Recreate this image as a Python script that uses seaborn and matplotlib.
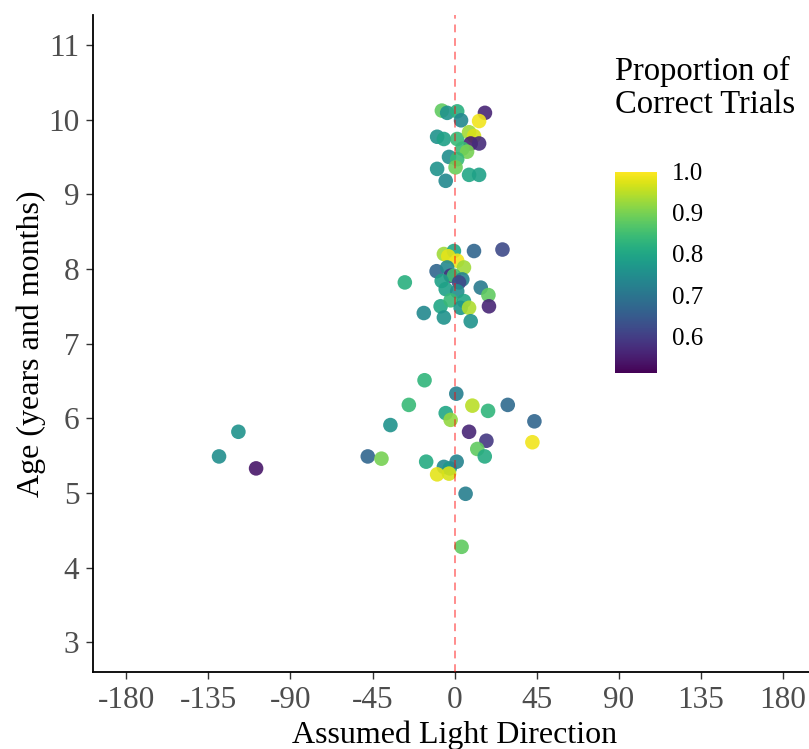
import numpy as np
import pandas as pd
import matplotlib
matplotlib.use('Agg')
import matplotlib.pyplot as plt
import seaborn as sns

# Assumed light direction (degrees), age (years) and proportion of correct trials
direction = [
    -16.5, -25.1, -35.2, 0.9, 9.7, 18.3, 29.1, 43.7, 42.6, -4.9,
    -2.2, 7.9, 17.4, 12.4, 16.5, -15.6, -5.9, -2.7, 1.1, -9.6,
    -3.1, 6.0, 3.8, -118.5, -129.1, -108.8, -47.6, -40.1,
    -5.9, -0.4, -3.5, 1.4, 10.6, 26.2, -9.9, -4.1, 5.1, -2.2,
    -0.4, 4.2, 2.4, -27.3, -7.1, -4.9, 1.4, 14.3, 18.5, 18.8,
    -7.7, -2.2, 5.1, 3.3, 7.9, -16.9, -5.9, 8.8,
    -7.0, -4.1, 1.4, 3.5, 16.6, 13.4, -9.6, -5.9, 1.4, 7.9,
    10.6, 8.8, 13.4, 4.2, 6.8, -3.1, 1.4, 0.5, -9.6, 7.9,
    13.4, -4.9,
]
age = [
    6.51, 6.18, 5.91, 6.33, 6.17, 6.10, 6.18, 5.96, 5.68, 6.07,
    5.98, 5.82, 5.70, 5.59, 5.49, 5.42, 5.35, 5.33, 5.42, 5.25,
    5.26, 4.99, 4.28, 5.82, 5.49, 5.33, 5.49, 5.46,
    8.20, 8.24, 8.17, 8.11, 8.24, 8.26, 7.97, 8.02, 8.02, 7.91,
    7.91, 7.86, 7.82, 7.82, 7.84, 7.73, 7.70, 7.75, 7.65, 7.50,
    7.50, 7.58, 7.57, 7.48, 7.48, 7.41, 7.35, 7.30,
    10.12, 10.09, 10.11, 9.99, 10.09, 9.98, 9.77, 9.74, 9.74, 9.83,
    9.78, 9.68, 9.68, 9.61, 9.57, 9.50, 9.47, 9.36, 9.34, 9.26,
    9.26, 9.18,
]
proportion = [
    0.83, 0.84, 0.76, 0.72, 0.95, 0.83, 0.68, 0.67, 0.99, 0.80,
    0.92, 0.56, 0.59, 0.88, 0.81, 0.81, 0.74, 0.77, 0.73, 0.98,
    0.97, 0.72, 0.88, 0.76, 0.75, 0.54, 0.67, 0.90,
    0.93, 0.80, 0.98, 0.99, 0.67, 0.62, 0.67, 0.74, 0.93, 0.58,
    0.85, 0.73, 0.62, 0.82, 0.79, 0.79, 0.75, 0.71, 0.88, 0.56,
    0.80, 0.84, 0.80, 0.77, 0.94, 0.74, 0.76, 0.76,
    0.88, 0.76, 0.82, 0.74, 0.56, 0.99, 0.76, 0.79, 0.84, 0.93,
    0.97, 0.55, 0.57, 0.84, 0.90, 0.75, 0.84, 0.89, 0.76, 0.80,
    0.79, 0.74,
]

x_ticks = [-180, -135, -90, -45, 0, 45, 90, 135, 180]
y_ticks = [3, 4, 5, 6, 7, 8, 9, 10, 11]
cbar_ticks = [0.6, 0.7, 0.8, 0.9, 1.0]
hue_range = (0.51, 1.0)

df = pd.DataFrame({'direction': direction, 'age': age, 'proportion': proportion})

sns.set_theme(style='ticks')
plt.rcParams['font.family'] = ['Liberation Serif', 'DejaVu Serif']
plt.rcParams['axes.unicode_minus'] = False

W, H = 809, 749
fig = plt.figure(figsize=(W / 100, H / 100), dpi=100)
ax = fig.add_axes([93.3 / W, (H - 672.3) / H, (816 - 93.3) / W, (672.3 - 15) / H])

sns.scatterplot(data=df, x='direction', y='age', hue='proportion',
                palette='viridis', hue_norm=hue_range, s=110, linewidth=0,
                alpha=0.9, legend=False, ax=ax, zorder=2)
ax.axvline(0, color='red', alpha=0.45, linestyle=(0, (4, 3)), linewidth=1.4, zorder=3)

ax.set_xlim(-198, 198)
ax.set_ylim(2.6, 11.4)
ax.set_xticks(x_ticks)
ax.set_yticks(y_ticks)
ax.set_xlabel('Assumed Light Direction', fontsize=23, color='black', labelpad=4)
ax.set_ylabel('Age (years and months)', fontsize=23, color='black', labelpad=1.5)
ax.tick_params(axis='both', labelsize=22.5, labelcolor='#4d4d4d', color='#333333',
               length=5, width=1)
ax.tick_params(axis='x', pad=5)
ax.tick_params(axis='y', pad=5)
sns.despine(ax=ax)
for sp in ['left', 'bottom']:
    ax.spines[sp].set_color('black')
    ax.spines[sp].set_linewidth(1.3)

# colorbar
cax = fig.add_axes([615 / W, (H - 373.3) / H, 41.7 / W, 201.6 / H])
sm = plt.cm.ScalarMappable(cmap='viridis', norm=plt.Normalize(*hue_range))
cb = fig.colorbar(sm, cax=cax, ticks=cbar_ticks)
cb.outline.set_visible(False)
cax.yaxis.set_ticks_position('both')
cax.tick_params(axis='y', direction='in', color='white', length=8, width=1,
                labelsize=18, labelcolor='black', pad=11, left=True, right=True,
                labelleft=False, labelright=True)
cb.set_ticklabels(['0.6', '0.7', '0.8', '0.9', '1.0'])

fig.text(615 / W, 1 - 56 / H, 'Proportion of\nCorrect Trials', fontsize=23.5,
         va='top', ha='left', linespacing=1.12, color='black')

fig.savefig('out.png', dpi=100)
